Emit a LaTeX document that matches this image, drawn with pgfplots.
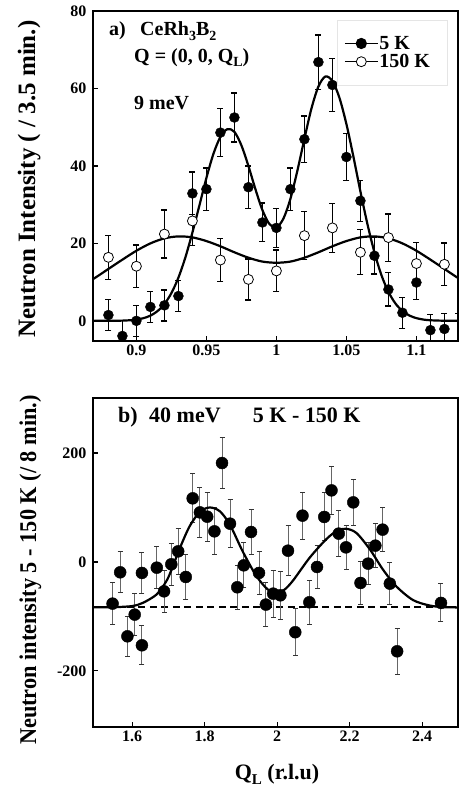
\documentclass[border=0pt]{standalone}
\usepackage{fontspec}
\setmainfont{Liberation Serif}
\usepackage{pgfplots}
\pgfplotsset{compat=1.18}
\newcommand\sub[2][13]{\raisebox{-0.45ex}{\fontsize{#1}{#1}\selectfont #2}}
\newcommand\fs[1]{\fontsize{#1}{#1}\selectfont\bfseries}
\pgfplotsset{
  myax/.style={scale only axis, width=365pt,
    axis line style={line width=1.3pt},
    tick align=inside, xtick pos=bottom, ytick pos=left,
    major tick length=5pt, minor tick num=0,
    tick style={line width=1.2pt, black},
    ticklabel style={font=\fs{16}},
    yticklabel style={xshift=-3pt},
    /pgf/number format/assume math mode=true},
  ebt/.style={error bars/.cd, y dir=both, y explicit,
    error bar style={line width=1.3pt, black},
    error mark options={rotate=90, mark size=3pt, line width=1.3pt, black}},
  ebb/.style={error bars/.cd, y dir=both, y explicit,
    error bar style={line width=1pt, black!60},
    error mark options={rotate=90, mark size=2.5pt, line width=1pt, black!80}},
}
\begin{document}
\begin{tikzpicture}[font=\bfseries]
% ---------------- top panel ----------------
\begin{axis}[myax, at={(93pt,453pt)}, anchor=south west, height=330pt,
  xmin=0.869, xmax=1.1297, ymin=-5.2, ymax=80,
  xtick={0.9,0.95,1,1.05,1.1}, xticklabels={0.9,0.95,1,1.05,1.1},
  ytick={0,20,40,60,80}, yticklabels={0,20,40,60,80},
  legend image code/.code={\draw[mark repeat=2,mark phase=2,#1] plot coordinates {(0pt,0pt) (16.5pt,0pt) (33pt,0pt)};},
  legend style={at={(rel axis cs:0.6685,0.9727)}, anchor=north west,
    draw=black!10, fill=white, font=\fs{20}, inner xsep=7pt, inner ysep=15pt,
    row sep=1.5pt, legend cell align=left,
    nodes={inner sep=1pt},
    /tikz/every even column/.append style={column sep=1pt}},
]
\addlegendimage{black, line width=1.2pt, mark=*, mark size=5pt, mark options={fill=black}}
\addlegendentry{5 K}
\addlegendimage{black, line width=1.2pt, mark=*, mark size=5pt, mark options={fill=white, line width=0.8pt}}
\addlegendentry{150 K\hspace*{9pt}}
\addplot[forget plot, only marks, mark=*, mark size=5pt, black, mark options={fill=black}, ebt]
coordinates {
(0.88,1.5) +- (0,4)
(0.89,-3.9) +- (0,4)
(0.90,0.0) +- (0,4)
(0.91,3.6) +- (0,4)
(0.92,4.0) +- (0,4)
(0.93,6.4) +- (0,4)
(0.94,32.9) +- (0,5.5)
(0.95,34.0) +- (0,5.5)
(0.96,48.6) +- (0,6.2)
(0.97,52.5) +- (0,6.3)
(0.98,34.5) +- (0,5.5)
(0.99,25.4) +- (0,5)
(1.00,24.0) +- (0,5)
(1.01,34.0) +- (0,5.5)
(1.02,46.9) +- (0,6)
(1.03,66.8) +- (0,7)
(1.04,60.9) +- (0,6.8)
(1.05,42.3) +- (0,6)
(1.06,31.0) +- (0,5.3)
(1.07,16.8) +- (0,4.7)
(1.08,8.1) +- (0,4.3)
(1.09,2.1) +- (0,4)
(1.10,9.9) +- (0,4.3)
(1.11,-2.4) +- (0,4)
(1.12,-2.1) +- (0,4)
(1.13,-2.1) +- (0,4)
};
\addplot[forget plot, only marks, mark=*, mark size=5pt, black, mark options={fill=white, line width=0.8pt}, ebt]
coordinates {
(0.88,16.4) +- (0,5.7)
(0.90,14.1) +- (0,5.5)
(0.92,22.4) +- (0,6.2)
(0.94,25.8) +- (0,6.4)
(0.96,15.7) +- (0,5.6)
(0.98,10.7) +- (0,5.3)
(1.00,12.9) +- (0,5.4)
(1.02,22.0) +- (0,6.2)
(1.04,24.0) +- (0,6.3)
(1.06,17.7) +- (0,5.8)
(1.08,21.5) +- (0,6.1)
(1.10,14.8) +- (0,5.5)
(1.12,14.6) +- (0,5.5)
};
\addplot[forget plot, black, line width=2.2pt, smooth, no marks] coordinates {
(0.869,0) (0.88,0.01) (0.89,0.06) (0.895,0.15) (0.90,0.33) (0.905,0.69) (0.91,1.35)
(0.915,2.49) (0.92,4.34) (0.925,7.16) (0.93,11.15) (0.935,16.4) (0.94,22.8) (0.945,29.8)
(0.95,36.9) (0.955,43.1) (0.96,47.5) (0.965,49.5) (0.97,48.8) (0.975,45.3) (0.98,40.0)
(0.985,34.0) (0.99,28.6) (0.995,25.0) (1.0,24.1) (1.005,26.4) (1.01,31.5) (1.015,38.8)
(1.02,47.0) (1.025,54.8) (1.03,60.5) (1.035,63.1) (1.04,61.9) (1.045,57.6) (1.05,50.8)
(1.055,42.4) (1.06,33.4) (1.065,25.0) (1.07,17.7) (1.075,11.8) (1.08,7.49) (1.085,4.49)
(1.09,2.55) (1.095,1.37) (1.10,0.70) (1.105,0.33) (1.11,0.15) (1.12,0.03) (1.131,0)
};
\addplot[forget plot, black, line width=2.2pt, smooth, no marks] coordinates {
(0.86,8.9) (0.87,11.0) (0.88,13.4) (0.89,15.8) (0.90,18.1) (0.91,20.0) (0.92,21.3)
(0.93,21.8) (0.94,21.55) (0.95,20.6) (0.96,19.25) (0.97,17.7) (0.98,16.3) (0.99,15.3)
(1.00,15.0) (1.01,15.3) (1.02,16.3) (1.03,17.7) (1.04,19.25) (1.05,20.6) (1.06,21.55)
(1.07,21.8) (1.08,21.3) (1.09,20.0) (1.10,18.1) (1.11,15.8) (1.12,13.4) (1.13,11.0) (1.14,8.9)
};
\end{axis}
% ---------------- bottom panel ----------------
\begin{axis}[myax, at={(93pt,67pt)}, anchor=south west, height=329pt,
  xmin=1.492, xmax=2.499, ymin=-303, ymax=301,
  xtick={1.6,1.8,2,2.2,2.4}, xticklabels={1.6,1.8,2,2.2,2.4},
  ytick={-200,0,200}, yticklabels={-200,0,200},
]
\addplot[black, line width=1.8pt, dash pattern=on 7pt off 4.5pt, no marks] coordinates {(1.49,-83) (2.51,-83)};
\addplot[only marks, mark=*, mark size=6pt, black, mark options={fill=black}, ebb]
coordinates {
(1.546,-76.5) +- (0,39)
(1.567,-19) +- (0,38)
(1.587,-136.5) +- (0,37)
(1.607,-96.7) +- (0,38)
(1.627,-20.2) +- (0,38)
(1.627,-153) +- (0,36)
(1.668,-10.5) +- (0,39)
(1.688,-53.9) +- (0,39)
(1.708,-4.3) +- (0,39)
(1.727,19.5) +- (0,42)
(1.748,-27.6) +- (0,41)
(1.767,116.8) +- (0,45)
(1.787,91) +- (0,46)
(1.807,83.1) +- (0,45)
(1.827,56.2) +- (0,43)
(1.848,181.6) +- (0,46)
(1.870,70.3) +- (0,44)
(1.890,-46.5) +- (0,40)
(1.908,-6.2) +- (0,41)
(1.928,55) +- (0,42)
(1.950,-20.2) +- (0,40)
(1.969,-78.3) +- (0,40)
(1.989,-58.2) +- (0,43)
(2.009,-61.2) +- (0,44)
(2.030,20.7) +- (0,46)
(2.050,-129) +- (0,43)
(2.070,85) +- (0,43)
(2.089,-74) +- (0,40)
(2.110,-9.2) +- (0,39)
(2.130,82.6) +- (0,44)
(2.150,131.4) +- (0,44)
(2.170,52) +- (0,42)
(2.190,26.8) +- (0,40)
(2.210,109.4) +- (0,42)
(2.230,-38.6) +- (0,40)
(2.251,-3.1) +- (0,39)
(2.271,29.9) +- (0,40)
(2.291,59.3) +- (0,40)
(2.311,-39.8) +- (0,39)
(2.331,-164) +- (0,42)
(2.452,-75.2) +- (0,35)
};
\addplot[black, line width=2.2pt, smooth, no marks] coordinates {
(1.49,-83) (1.55,-83) (1.60,-81) (1.63,-75) (1.667,-60) (1.69,-40) (1.704,-22)
(1.732,26) (1.759,66) (1.787,92) (1.814,100) (1.842,93) (1.870,68) (1.906,18)
(1.943,-26) (1.975,-51) (2.0,-56) (2.02,-51) (2.044,-34) (2.09,8) (2.136,42)
(2.165,57) (2.19,61) (2.219,53) (2.256,23) (2.292,-14) (2.329,-45) (2.375,-70)
(2.421,-80) (2.46,-83) (2.51,-83.5)
};
\end{axis}
% ---------------- texts ----------------
\node[anchor=base west, inner sep=0pt, font=\fs{20}] at (109pt,758pt) {a)};
\node[anchor=base west, inner sep=0pt, font=\fs{20}] at (140pt,758pt) {CeRh\sub[14]{3}B\sub[14]{2}};
\node[anchor=base west, inner sep=0pt, font=\fs{20}] at (134pt,731.3pt) {Q = (0, 0, Q\sub[14]{L})};
\node[anchor=base west, inner sep=0pt, font=\fs{20}] at (134pt,684pt) {9 meV};
\node[anchor=base west, inner sep=0pt, font=\fs{22}] at (118pt,371.3pt) {b)};
\node[anchor=base west, inner sep=0pt, font=\fs{22}] at (149pt,371.3pt) {40 meV};
\node[anchor=base west, inner sep=0pt, font=\fs{22}] at (252.7pt,371.3pt) {5 K - 150 K};
\node[anchor=base, inner sep=0pt, rotate=90, font=\fs{25}] at (35pt,615pt) {Neutron Intensity ( / 3.5 min.)};
\node[anchor=base, inner sep=0pt, rotate=90, font=\fs{24}] at (36pt,224pt) {\scalebox{0.93}[1]{Neutron intensity 5 - 150 K (/ 8 min.)}};
\node[anchor=base, inner sep=0pt, font=\fs{22}] at (277pt,14pt) {Q\sub[15]{L} (r.l.u)};
\pgfresetboundingbox
\path (0pt,0pt) rectangle (459pt,794pt);
\end{tikzpicture}
\end{document}
